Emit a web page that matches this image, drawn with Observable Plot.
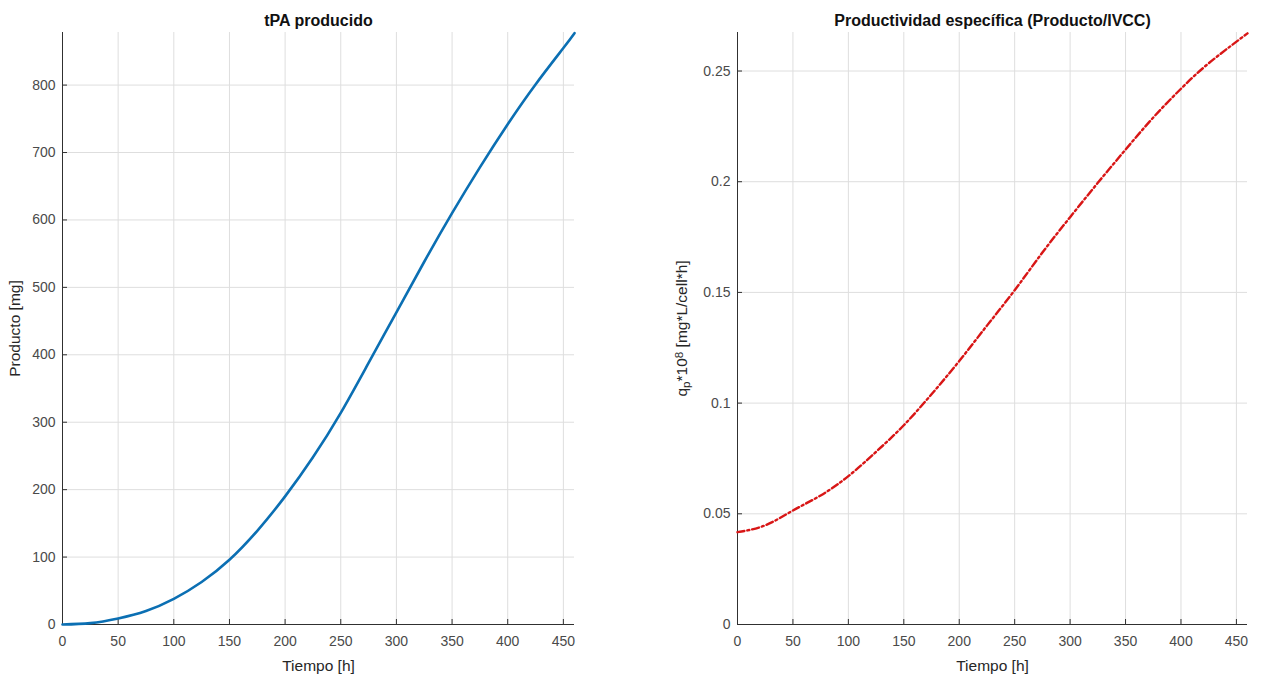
<!DOCTYPE html>
<html><head><meta charset="utf-8">
<script src="https://cdn.jsdelivr.net/npm/d3@7"></script>
<script src="https://cdn.jsdelivr.net/npm/@observablehq/plot@0.6"></script>
<style>
body{margin:0;background:#fff;}
#wrap{position:relative;width:1262px;height:677px;overflow:hidden;}
#left,#right{position:absolute;top:0;}
#left{left:0;} #right{left:631px;}
svg{font-family:"Liberation Sans",Arial,sans-serif;}
</style></head><body>
<div id="wrap"><div id="left"></div><div id="right"></div></div>
<script>
// ---- data ----
const timeTPA = [0,25,50,75,100,125,150,175,200,225,250,275,300,325,350,375,400,425,450,460];
const tpaMg   = [0,2,9,20,38,63,96,139,190,248,314,388,463,538,610,678,742,801,855,877];

const timeQp  = [0,25,50,75,100,125,150,175,200,225,250,275,300,325,350,375,400,425,460];
const qpVals  = [0.0417,0.0448,0.0515,0.0583,0.0670,0.0780,0.0900,0.1040,0.1190,0.1350,0.1510,0.1680,0.1840,0.1995,0.2145,0.2290,0.2420,0.2535,0.2670];

const xTicks     = [0,50,100,150,200,250,300,350,400,450];
const yTicksTPA  = [0,100,200,300,400,500,600,700,800];
const yTicksQp   = [0,0.05,0.1,0.15,0.2,0.25];
const xDomain    = [0,460];
const yDomainTPA = [0,878];
const yDomainQp  = [0,0.2674];

const titleTPA = "tPA producido";
const titleQp  = "Productividad específica (Producto/IVCC)";
const xLabel   = "Tiempo [h]";
const yLabelTPA = "Producto [mg]";

const tpaData = timeTPA.map((t,i)=>({t, v: tpaMg[i]}));
const qpData  = timeQp.map((t,i)=>({t, v: qpVals[i]}));

function panel({data, yDomain, yTicks, stroke, dash, title, ylabel, marginLeft, marginRight, labelOffset}) {
  return Plot.plot({
    width: 631, height: 677,
    marginLeft, marginRight, marginTop: 32, marginBottom: 53,
    style: {fontFamily: '"Liberation Sans", Arial, sans-serif', fontSize: "14px", color: "#4a4a4a", background: "#fff"},
    x: {domain: xDomain},
    y: {domain: yDomain},
    marks: [
      Plot.gridX(xTicks, {stroke: "#dedede", strokeOpacity: 1}),
      Plot.gridY(yTicks, {stroke: "#dedede", strokeOpacity: 1}),
      Plot.axisX(xTicks, {anchor: "bottom", tickSize: -5, tickPadding: 17, stroke: "#303030",
        tickFormat: d => String(d), label: xLabel, labelAnchor: "center", labelArrow: "none",
        labelOffset: 46, fill: "#4a4a4a"}),
      Plot.axisY(yTicks, {anchor: "left", tickSize: -5, tickPadding: 12, stroke: "#303030",
        tickFormat: d => String(d), label: ylabel, labelAnchor: "center", labelArrow: "none",
        labelOffset, fill: "#4a4a4a"}),
      Plot.ruleX([xDomain[0]], {stroke: "#303030", strokeWidth: 1}),
      Plot.ruleY([yDomain[0]], {stroke: "#303030", strokeWidth: 1}),
      Plot.line(data, {x: "t", y: "v", stroke, strokeWidth: dash ? 2.4 : 2.6,
        strokeDasharray: dash || null, curve: "natural", clip: false}),
      Plot.text([title], {frameAnchor: "top", dy: -12, lineAnchor: "middle", fontWeight: "bold", fontSize: 16, fill: "#111"})
    ]
  });
}

const left = panel({data: tpaData, yDomain: yDomainTPA, yTicks: yTicksTPA, stroke: "#0b6fb3",
  title: titleTPA, ylabel: yLabelTPA, marginLeft: 62, marginRight: 57, labelOffset: 54});
document.getElementById("left").appendChild(left);

const right = panel({data: qpData, yDomain: yDomainQp, yTicks: yTicksQp, stroke: "#d81616",
  dash: "7,3,2,3", title: titleQp, ylabel: "qp*108 [mg*L/cell*h]", marginLeft: 106, marginRight: 15, labelOffset: 62});
document.getElementById("right").appendChild(right);

// rich y label (subscript p, superscript 8)
const lab = d3.select(right).selectAll('g[aria-label="y-axis label"] text');
lab.each(function(){
  const t = d3.select(this);
  t.text(null);
  t.append("tspan").text("q");
  t.append("tspan").attr("baseline-shift","-25%").attr("font-size","75%").text("p");
  t.append("tspan").text("*10");
  t.append("tspan").attr("baseline-shift","35%").attr("font-size","75%").text("8");
  t.append("tspan").text(" [mg*L/cell*h]");
});
d3.selectAll("svg g[aria-label$='axis label'] text").attr("fill","#262626").style("font-size","15.5px");
</script>
</body></html>
